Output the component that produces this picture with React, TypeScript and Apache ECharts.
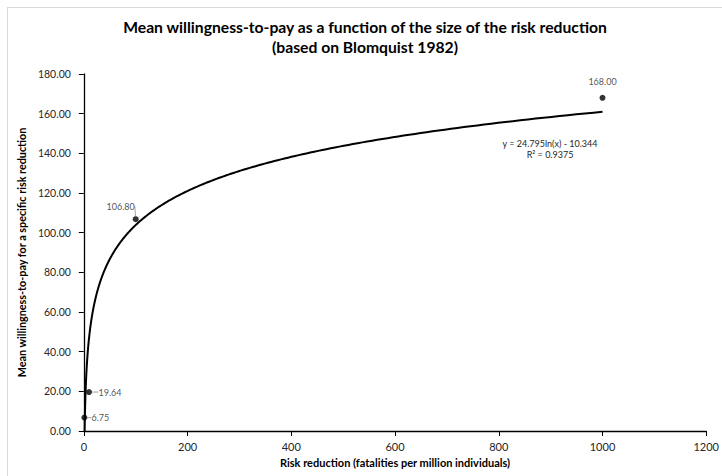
import React, { useEffect, useRef } from "react";
import * as echarts from "echarts";

const riskReduction = [1, 10, 100, 1000];
const meanWTP = [6.75, 19.64, 106.8, 168.0];
const xTicks = [0, 200, 400, 600, 800, 1000, 1200];
const yTicks = [0, 20, 40, 60, 80, 100, 120, 140, 160, 180];
const trendCoefA = 24.795;
const trendCoefB = -10.344;
const trendR2 = 0.9375;
const titleLines = [
  "Mean willingness-to-pay as a function of the size of the risk reduction",
  "(based on Blomquist 1982)",
];
const xName = "Risk reduction (fatalities per million individuals)";
const yName = "Mean willingness-to-pay for a specific risk reduction";

// label offsets (dx, dy) per point, and whether a leader line is drawn
const labelOffsets = [
  [16, 0],
  [21, 0],
  [-15, -13],
  [0, -16],
];
const leaderShown = [true, true, true, false];

const FONT = "Lato";

export default function App() {
  const ref = useRef<HTMLDivElement>(null);
  useEffect(() => {
    if (!ref.current) return;
    const chart = echarts.init(ref.current, null, { renderer: "svg" });
    // trendline sampled from the displayed regression equation
    const trendData: number[][] = [];
    const xmin = riskReduction[0];
    const xmax = riskReduction[riskReduction.length - 1];
    const n = 400;
    for (let i = 0; i <= n; i++) {
      const x = xmin * Math.pow(xmax / xmin, i / n);
      trendData.push([x, trendCoefA * Math.log(x) + trendCoefB]);
    }
    chart.setOption({
      animation: false,
      textStyle: { fontFamily: FONT },
      title: {
        text: titleLines.join("\n"),
        left: "center",
        top: 4,
        padding: [5, 9, 5, 0],
        textStyle: {
          fontFamily: FONT,
          fontSize: 15.7,
          fontWeight: "bold",
          color: "#000",
          lineHeight: 20,
        },
      },
      grid: { left: 73, right: 11, top: 66, bottom: 45 },
      xAxis: {
        type: "value",
        min: xTicks[0],
        max: xTicks[xTicks.length - 1],
        interval: 200,
        name: xName,
        nameLocation: "middle",
        nameGap: 26,
        nameTextStyle: { fontFamily: FONT, fontSize: 11, fontWeight: "bold", color: "#000" },
        axisLine: { show: true, onZero: false, lineStyle: { color: "#000", width: 1.3 } },
        axisTick: { show: true, length: 5, lineStyle: { color: "#000" } },
        axisLabel: {
          fontFamily: FONT,
          fontSize: 11,
          color: "#262626",
          margin: 10,
          formatter: (v: number) => String(v),
        },
        splitLine: { show: false },
      },
      yAxis: {
        type: "value",
        min: yTicks[0],
        max: yTicks[yTicks.length - 1],
        interval: 20,
        name: yName,
        nameLocation: "middle",
        nameGap: 53,
        nameTextStyle: { fontFamily: FONT, fontSize: 10.8, fontWeight: "bold", color: "#000" },
        axisLine: { show: true, onZero: false, lineStyle: { color: "#000", width: 1.3 } },
        axisTick: { show: true, length: 5, lineStyle: { color: "#000" } },
        axisLabel: {
          fontFamily: FONT,
          fontSize: 10.5,
          color: "#262626",
          margin: 13,
          formatter: (v: number) => v.toFixed(2),
        },
        splitLine: { show: false },
      },
      series: [
        {
          type: "line",
          data: trendData,
          showSymbol: false,
          symbol: "none",
          clip: true,
          lineStyle: { color: "#000", width: 2 },
          z: 2,
          silent: true,
        },
        {
          type: "scatter",
          data: riskReduction.map((x, i) => ({
            value: [x, meanWTP[i]],
            labelLine: { show: leaderShown[i] },
          })),
          symbol: "circle",
          symbolSize: 6,
          itemStyle: { color: "#000" },
          z: 3,
          label: {
            show: true,
            fontFamily: FONT,
            fontSize: 9,
            color: "#262626",
            position: "inside",
            formatter: (p: any) => p.value[1].toFixed(2),
          },
          labelLine: { show: true, lineStyle: { color: "#a6a6a6", width: 1 } },
          labelLayout: (p: any) => ({
            dx: labelOffsets[p.dataIndex][0],
            dy: labelOffsets[p.dataIndex][1],
          }),
        },
      ],
      graphic: [
        {
          type: "text",
          x: 542,
          y: 130,
          style: {
            text: `y = ${trendCoefA}ln(x) - ${Math.abs(trendCoefB)}\nR² = ${trendR2}`,
            fontFamily: FONT,
            fontSize: 9,
            fill: "#262626",
            align: "center",
            lineHeight: 11,
          },
        },
      ],
    });
    return () => chart.dispose();
  }, []);
  return (
    <div
      style={{
        position: "fixed",
        left: 0,
        top: 0,
        width: 722,
        height: 476,
        overflow: "hidden",
        background: "#fff",
      }}
    >
      <div
        style={{
          position: "absolute",
          left: 7,
          top: 7,
          width: 730,
          height: 480,
          borderLeft: "1px solid #d9d9d9",
          borderTop: "1px solid #d9d9d9",
        }}
      />
      <div
        ref={ref}
        style={{ position: "absolute", left: 8, top: 8, width: 714, height: 468 }}
      />
    </div>
  );
}
